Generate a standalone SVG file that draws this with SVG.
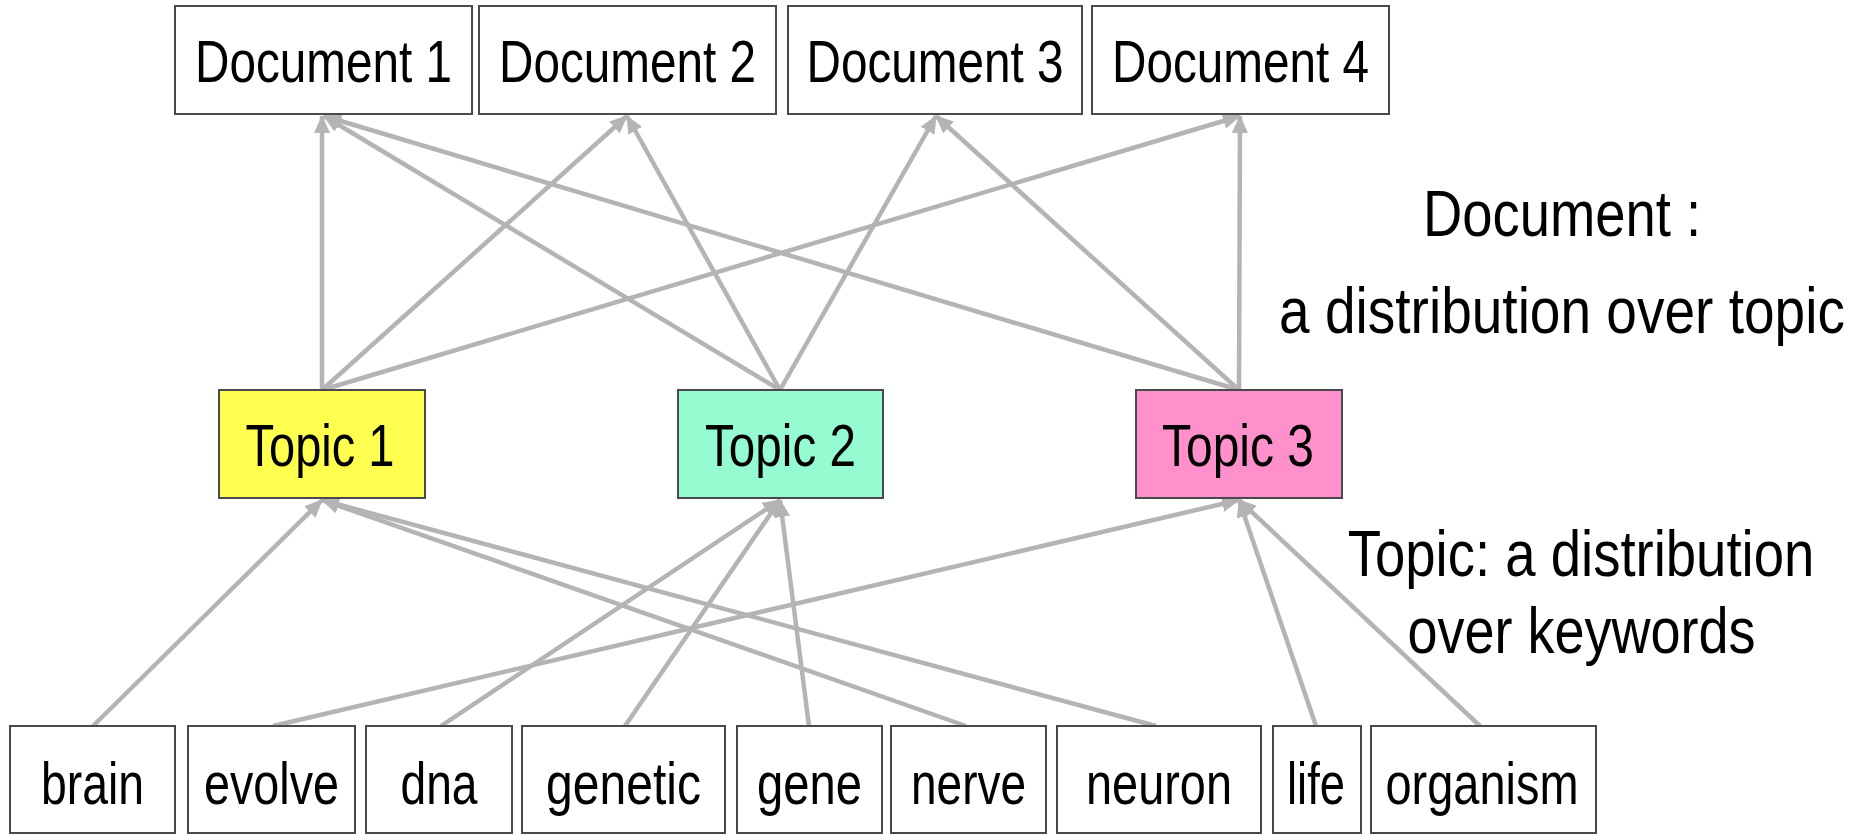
<svg xmlns="http://www.w3.org/2000/svg" width="1860" height="834" viewBox="0 0 1860 834">
<style>
.box{fill:#ffffff;stroke:#4a4a4a;stroke-width:2}
.t{font-family:"Liberation Sans",Arial,sans-serif;font-size:60px;fill:#000;text-anchor:middle}
.n{font-family:"Liberation Sans",Arial,sans-serif;font-size:64px;fill:#000;text-anchor:middle}
.c{stroke:#b4b4b4;stroke-width:4.5;fill:none;marker-end:url(#ah)}
</style>
<defs>
<marker id="ah" markerUnits="userSpaceOnUse" markerWidth="18" markerHeight="16" viewBox="0 0 18 16" refX="17" refY="8" orient="auto">
<path d="M0,0 L18,8 L0,16 z" fill="#b4b4b4"/>
</marker>
</defs>
<rect width="1860" height="834" fill="#ffffff"/>
<g id="connectors">
<line class="c" x1="322" y1="390" x2="322" y2="116"/>
<line class="c" x1="322" y1="390" x2="627" y2="116"/>
<line class="c" x1="322" y1="390" x2="1240" y2="116"/>
<line class="c" x1="780" y1="390" x2="324" y2="116"/>
<line class="c" x1="780" y1="390" x2="627" y2="116"/>
<line class="c" x1="780" y1="390" x2="936" y2="116"/>
<line class="c" x1="1239" y1="390" x2="324" y2="116"/>
<line class="c" x1="1239" y1="390" x2="936" y2="116"/>
<line class="c" x1="1239" y1="390" x2="1240" y2="116"/>
<line class="c" x1="93" y1="726" x2="322" y2="500"/>
<line class="c" x1="273" y1="726" x2="1239" y2="500"/>
<line class="c" x1="441" y1="726" x2="780" y2="500"/>
<line class="c" x1="625" y1="726" x2="780" y2="500"/>
<line class="c" x1="809" y1="726" x2="780" y2="500"/>
<line class="c" x1="966" y1="726" x2="322" y2="500"/>
<line class="c" x1="1156" y1="726" x2="322" y2="500"/>
<line class="c" x1="1316" y1="726" x2="1239" y2="500"/>
<line class="c" x1="1480" y1="726" x2="1239" y2="500"/>
</g>
<g id="doc1"><rect class="box" x="175" y="6" width="297" height="108"/><text class="t" x="323.5" y="81.5" textLength="257" lengthAdjust="spacingAndGlyphs">Document 1</text></g>
<g id="doc2"><rect class="box" x="479" y="6" width="297" height="108"/><text class="t" x="627.5" y="81.5" textLength="257" lengthAdjust="spacingAndGlyphs">Document 2</text></g>
<g id="doc3"><rect class="box" x="788" y="6" width="294" height="108"/><text class="t" x="935" y="81.5" textLength="257" lengthAdjust="spacingAndGlyphs">Document 3</text></g>
<g id="doc4"><rect class="box" x="1092" y="6" width="297" height="108"/><text class="t" x="1240.5" y="81.5" textLength="257" lengthAdjust="spacingAndGlyphs">Document 4</text></g>
<g id="topic1"><rect class="box" x="219" y="390" width="206" height="108" style="fill:#ffff50"/><text class="t" x="320" y="465.5" textLength="149" lengthAdjust="spacingAndGlyphs">Topic 1</text></g>
<g id="topic2"><rect class="box" x="678" y="390" width="205" height="108" style="fill:#94fcd0"/><text class="t" x="780.5" y="465.5" textLength="151" lengthAdjust="spacingAndGlyphs">Topic 2</text></g>
<g id="topic3"><rect class="box" x="1136" y="390" width="206" height="108" style="fill:#ff90cc"/><text class="t" x="1238" y="465.5" textLength="152" lengthAdjust="spacingAndGlyphs">Topic 3</text></g>
<g id="w-brain"><rect class="box" x="10" y="726" width="165" height="107"/><text class="t" x="92.5" y="804" textLength="103" lengthAdjust="spacingAndGlyphs">brain</text></g>
<g id="w-evolve"><rect class="box" x="188" y="726" width="167" height="107"/><text class="t" x="271.5" y="804" textLength="135" lengthAdjust="spacingAndGlyphs">evolve</text></g>
<g id="w-dna"><rect class="box" x="366" y="726" width="146" height="107"/><text class="t" x="439" y="804" textLength="77" lengthAdjust="spacingAndGlyphs">dna</text></g>
<g id="w-genetic"><rect class="box" x="522" y="726" width="203" height="107"/><text class="t" x="623.5" y="804" textLength="155" lengthAdjust="spacingAndGlyphs">genetic</text></g>
<g id="w-gene"><rect class="box" x="737" y="726" width="145" height="107"/><text class="t" x="809.5" y="804" textLength="105" lengthAdjust="spacingAndGlyphs">gene</text></g>
<g id="w-nerve"><rect class="box" x="891" y="726" width="155" height="107"/><text class="t" x="968.5" y="804" textLength="115" lengthAdjust="spacingAndGlyphs">nerve</text></g>
<g id="w-neuron"><rect class="box" x="1057" y="726" width="204" height="107"/><text class="t" x="1159" y="804" textLength="146" lengthAdjust="spacingAndGlyphs">neuron</text></g>
<g id="w-life"><rect class="box" x="1273" y="726" width="88" height="107"/><text class="t" x="1316" y="804" textLength="58" lengthAdjust="spacingAndGlyphs">life</text></g>
<g id="w-organism"><rect class="box" x="1371" y="726" width="225" height="107"/><text class="t" x="1482" y="804" textLength="193" lengthAdjust="spacingAndGlyphs">organism</text></g>
<g id="label-document">
<text class="n" transform="translate(1562,236) scale(0.85,1)" x="0" y="0">Document :</text>
<text class="n" transform="translate(1562,333) scale(0.86,1)" x="0" y="0">a distribution over topic</text>
</g>
<g id="label-topic">
<text class="n" transform="translate(1581,576) scale(0.852,1)" x="0" y="0">Topic: a distribution</text>
<text class="n" transform="translate(1581.5,653) scale(0.844,1)" x="0" y="0">over keywords</text>
</g>
</svg>
